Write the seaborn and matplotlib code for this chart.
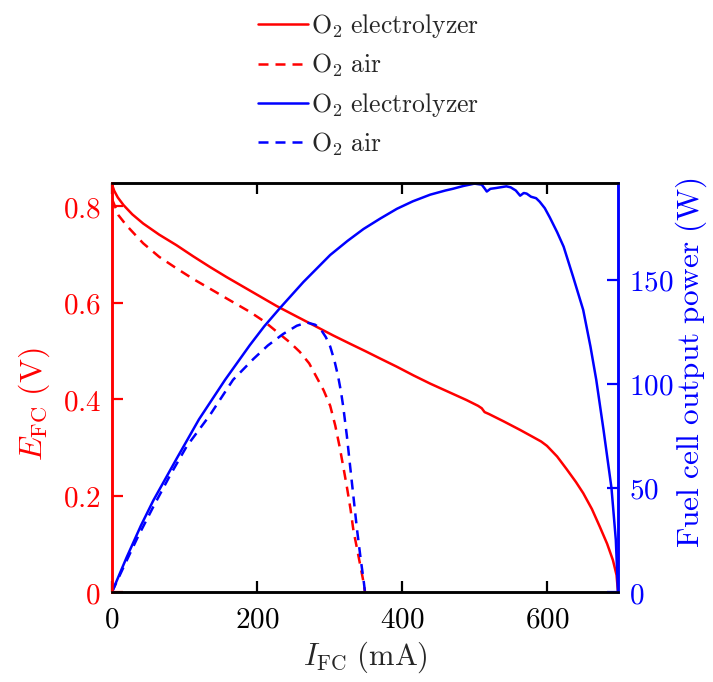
import matplotlib
matplotlib.use("Agg")
import matplotlib.pyplot as plt
from matplotlib.ticker import FuncFormatter
import numpy as np
import pandas as pd
import seaborn as sns

# ---- data ----
I_elec = [0, 3, 8, 16, 28, 43, 65, 89, 112, 135, 158, 181, 204, 227, 255, 282, 305,
          328, 350, 370, 393, 416, 439, 464, 489, 505, 510, 514, 520, 540, 563, 580,
          592, 600, 614, 627, 640, 650, 662, 673, 683, 691, 696, 698]
E_elec = [0.845, 0.832, 0.818, 0.802, 0.783, 0.764, 0.741, 0.719, 0.696, 0.674, 0.653,
          0.633, 0.613, 0.593, 0.571, 0.550, 0.532, 0.515, 0.499, 0.484, 0.467, 0.449,
          0.432, 0.415, 0.398, 0.386, 0.381, 0.373, 0.369, 0.354, 0.336, 0.322, 0.312,
          0.303, 0.281, 0.255, 0.228, 0.205, 0.172, 0.135, 0.100, 0.066, 0.035, 0.0]

I_air = [0, 4, 9, 20, 43, 65, 89, 112, 135, 160, 190, 210, 227, 245, 259, 272, 282,
         292, 301, 308, 314, 319, 324, 329, 333, 338, 342, 346, 349]
E_air = [0.815, 0.800, 0.781, 0.760, 0.723, 0.695, 0.671, 0.649, 0.629, 0.607, 0.581,
         0.561, 0.540, 0.518, 0.498, 0.474, 0.446, 0.418, 0.386, 0.345, 0.301, 0.260,
         0.218, 0.172, 0.128, 0.090, 0.059, 0.028, 0.0]

I_pow_elec = [0, 20, 40, 57, 89, 120, 156, 190, 210, 232, 264, 301, 325, 347, 370,
              393, 415, 439, 460, 470, 485, 500, 510, 514, 517, 522, 530, 544, 550,
              557, 563, 568, 572, 578, 585, 590, 597, 604, 614, 623, 636, 650, 660,
              668, 678, 689, 695, 698]
P_elec = [0, 16.5, 32, 44, 64, 83, 102, 118.6, 127.7, 136.6, 149, 162, 168.8, 174.5,
          179.5, 184.2, 187.8, 191, 193, 193.8, 195.2, 196.3, 195.8, 194, 192.5, 193.8,
          194.2, 195, 194.5, 193, 190.5, 191.8, 191.5, 190, 189.3, 187.6, 184.5, 180,
          173, 166, 151.6, 135.6, 118, 102, 78, 50, 25, 0]

I_pow_air = [0, 16, 35, 57, 80, 103, 135, 167, 195, 215, 236, 255, 269, 280, 287, 295,
             301, 307, 312, 316, 319, 324, 328, 333, 338, 343, 347, 349]
P_air = [0, 12, 26, 41, 56, 70, 85, 102, 112, 118.5, 124, 128, 129.5, 128.5, 126.8,
         122.5, 118, 111, 103.5, 96, 89, 75, 62, 46, 30, 16, 5.8, 0]

labels = [r"$\mathrm{O_2\ electrolyzer}$", r"$\mathrm{O_2\ air}$",
          r"$\mathrm{O_2\ electrolyzer}$", r"$\mathrm{O_2\ air}$"]

sns.set_style("ticks")
plt.rcParams["mathtext.fontset"] = "cm"
plt.rcParams["font.family"] = ["DejaVu Serif"]

RED = "#ff0000"
BLUE = "#0000ff"
DASH = (0, (4.0, 2.8))
LW = 1.8
FS = 21

fig = plt.figure(figsize=(7.13, 6.82), dpi=100)
ax = fig.add_axes([112/713, 1-592/682, (618-112)/713, (592-183)/682])
ax2 = ax.twinx()

df_e = pd.DataFrame({"I": I_elec, "E": E_elec})
df_a = pd.DataFrame({"I": I_air, "E": E_air})
df_pe = pd.DataFrame({"I": I_pow_elec, "P": P_elec})
df_pa = pd.DataFrame({"I": I_pow_air, "P": P_air})

sns.lineplot(data=df_e, x="I", y="E", ax=ax, color=RED, lw=LW, sort=False)
sns.lineplot(data=df_a, x="I", y="E", ax=ax, color=RED, lw=LW, sort=False, linestyle=DASH)
sns.lineplot(data=df_pe, x="I", y="P", ax=ax2, color=BLUE, lw=LW, sort=False)
sns.lineplot(data=df_pa, x="I", y="P", ax=ax2, color=BLUE, lw=LW, sort=False, linestyle=DASH)

ax.set_xlim(0, 698)
ax.set_ylim(0, 0.848)
ax2.set_ylim(0, 196.6)

ax.set_xticks([0, 200, 400, 600])
ax.set_yticks([0, 0.2, 0.4, 0.6, 0.8])
ax2.set_yticks([0, 50, 100, 150])

fmt = FuncFormatter(lambda v, p: r"$\mathrm{%g}$" % v)
ax.xaxis.set_major_formatter(fmt)
ax.yaxis.set_major_formatter(fmt)
ax2.yaxis.set_major_formatter(fmt)

ax.tick_params(axis="x", direction="in", length=8, width=1.6, top=True,
               labelsize=FS, colors="black", pad=10)
ax.tick_params(axis="y", direction="in", length=8, width=1.6, labelsize=FS,
               colors=RED, pad=8)
ax2.tick_params(axis="y", direction="in", length=8, width=1.6, labelsize=FS,
                colors=BLUE, pad=8)

for a in (ax, ax2):
    for s in a.spines.values():
        s.set_linewidth(1.8)
        s.set_visible(True)
        s.set_color("black")
ax.spines["left"].set_color(RED)
ax2.spines["left"].set_color(RED)
ax.spines["right"].set_color(BLUE)
ax2.spines["right"].set_color(BLUE)

ax.set_xlabel(r"$I_{\mathrm{FC}}\ \mathrm{(mA)}$", fontsize=22, labelpad=4)
ax.set_ylabel(r"$E_{\mathrm{FC}}\ \mathrm{(V)}$", fontsize=23, color=RED)
ax.yaxis.set_label_coords(-0.118, 0.46)
ax2.set_ylabel(r"$\mathrm{Fuel\ cell\ output\ power\ (W)}$", fontsize=22.5, color=BLUE)
ax2.yaxis.set_label_coords(1.11, 0.56)

handles = [
    plt.Line2D([], [], color=RED, lw=LW),
    plt.Line2D([], [], color=RED, lw=LW, linestyle=DASH),
    plt.Line2D([], [], color=BLUE, lw=LW),
    plt.Line2D([], [], color=BLUE, lw=LW, linestyle=DASH),
]
fig.legend(handles, labels, loc="upper left", bbox_to_anchor=(248/713, 1.0 - 2/682),
           frameon=False, fontsize=18.5, handlelength=1.95, handletextpad=0.12,
           labelspacing=0.45, borderaxespad=0.0)

fig.savefig("out.png", dpi=100)
